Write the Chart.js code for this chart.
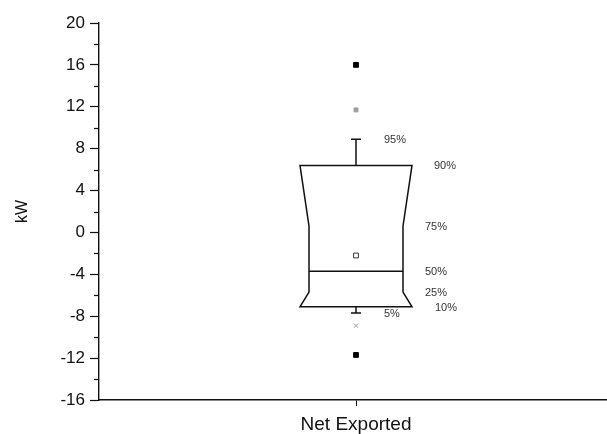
<!DOCTYPE html>
<html>
<head>
<meta charset="utf-8">
<script src="https://cdn.jsdelivr.net/npm/chart.js@4/dist/chart.umd.min.js"></script>
<style>
  html, body { margin: 0; padding: 0; background: #fff; overflow: hidden; width: 607px; height: 434px; }
  #c { display: block; }
</style>
</head>
<body>
<!-- the plot runs off the right edge of the page, so the canvas is a little wider than the window -->
<canvas id="c" width="618" height="434"></canvas>
<script>
// Category and summary statistics (kW)
const categories = ['Net Exported'];
const percentileLabels = ['5%', '10%', '25%', '50%', '75%', '90%', '95%'];
const percentileValues = [-7.7, -7.1, -5.7, -3.7, 0.6, 6.4, 8.9];
const meanValues = [-2.2];
const maxValues = [16.0];
const minValues = [-11.7];
const p99Values = [11.7];
const p1Values = [-8.9];

const FONT = '"Liberation Sans", Arial, sans-serif';

// Draws the percentile box, whiskers and percentile annotations
const boxPlugin = {
  id: 'percentileBox',
  beforeDatasetsDraw(chart) {
    const { ctx } = chart;
    const xs = chart.scales.x, ys = chart.scales.y;
    const pv = {};
    percentileLabels.forEach((l, i) => { pv[l] = percentileValues[i]; });
    const cx = xs.getPixelForValue(0);
    const Y = v => ys.getPixelForValue(v);
    const wide = 56, narrow = 47, cap = 5;

    ctx.save();
    ctx.strokeStyle = '#111';
    ctx.lineWidth = 1.5;
    ctx.lineJoin = 'miter';

    // outline: 90% -> 75% taper, straight to 25%, taper out to 10%
    ctx.beginPath();
    ctx.moveTo(cx - wide, Y(pv['90%']));
    ctx.lineTo(cx + wide, Y(pv['90%']));
    ctx.lineTo(cx + narrow, Y(pv['75%']));
    ctx.lineTo(cx + narrow, Y(pv['25%']));
    ctx.lineTo(cx + wide, Y(pv['10%']));
    ctx.lineTo(cx - wide, Y(pv['10%']));
    ctx.lineTo(cx - narrow, Y(pv['25%']));
    ctx.lineTo(cx - narrow, Y(pv['75%']));
    ctx.closePath();
    ctx.stroke();

    // median
    ctx.beginPath();
    ctx.moveTo(cx - narrow, Y(pv['50%']));
    ctx.lineTo(cx + narrow, Y(pv['50%']));
    ctx.stroke();

    // whiskers
    ctx.beginPath();
    ctx.moveTo(cx, Y(pv['90%']));
    ctx.lineTo(cx, Y(pv['95%']));
    ctx.moveTo(cx - cap, Y(pv['95%']));
    ctx.lineTo(cx + cap, Y(pv['95%']));
    ctx.moveTo(cx, Y(pv['10%']));
    ctx.lineTo(cx, Y(pv['5%']));
    ctx.moveTo(cx - cap, Y(pv['5%']));
    ctx.lineTo(cx + cap, Y(pv['5%']));
    ctx.stroke();

    // percentile annotations
    ctx.fillStyle = '#333';
    ctx.font = '11px ' + FONT;
    ctx.textAlign = 'left';
    ctx.textBaseline = 'middle';
    const offsets = { '95%': 28, '5%': 28, '90%': wide + 22, '10%': wide + 23,
                      '75%': wide + 13, '50%': wide + 13, '25%': wide + 13 };
    percentileLabels.forEach(l => {
      ctx.fillText(l, cx + offsets[l], Y(pv[l]) + 1);
    });

    // minor ticks on the y axis
    ctx.strokeStyle = '#111';
    ctx.lineWidth = 1.2;
    ys.ticks.forEach(t => {
      if (t.value % 4 !== 0) {
        const y = Math.round(Y(t.value)) + 0.5;
        ctx.beginPath();
        ctx.moveTo(ys.right - 5, y);
        ctx.lineTo(ys.right, y);
        ctx.stroke();
      }
    });
    ctx.restore();
  }
};

const pointSet = (data, style, radius, fill, border) => ({
  data, showLine: false, pointStyle: style, pointRadius: radius,
  pointBackgroundColor: fill, pointBorderColor: border, pointBorderWidth: 1
});

new Chart(document.getElementById('c'), {
  type: 'line',
  data: {
    labels: categories,
    datasets: [
      pointSet(maxValues, 'rect', 3.4, '#000', '#000'),
      pointSet(minValues, 'rect', 3.4, '#000', '#000'),
      pointSet(p99Values, 'rect', 2.8, '#a0a0a0', '#a0a0a0'),
      pointSet(p1Values, 'crossRot', 3, '#999', '#999'),
      pointSet(meanValues, 'rect', 3.4, '#fff', '#333')
    ]
  },
  plugins: [boxPlugin],
  options: {
    responsive: false,
    animation: false,
    devicePixelRatio: 1,
    layout: { padding: { top: 23, right: 0, left: 0, bottom: 0 } },
    plugins: { legend: { display: false }, tooltip: { enabled: false } },
    scales: {
      x: {
        type: 'category',
        offset: true,
        afterFit: s => { s.height = 34; },
        grid: { drawOnChartArea: false, tickLength: 6, tickColor: '#111', offset: false },
        border: { color: '#111', width: 1.4 },
        ticks: { color: '#111', font: { family: FONT, size: 19 }, padding: 7 }
      },
      y: {
        min: -16,
        max: 20,
        afterFit: s => { s.width = 99; },
        grid: {
          drawOnChartArea: false,
          tickLength: 9,
          tickWidth: 1.2,
          tickColor: c => (c.tick && c.tick.value % 4 === 0) ? '#111' : 'rgba(0,0,0,0)'
        },
        border: { color: '#111', width: 1.4 },
        ticks: {
          stepSize: 2,
          autoSkip: false,
          color: '#111',
          padding: 5,
          font: { family: FONT, size: 17 },
          callback: v => (v % 4 === 0 ? String(v) : '')
        },
        title: {
          display: true,
          text: 'kW',
          color: '#111',
          font: { family: FONT, size: 16 },
          padding: { top: 13, bottom: 0 }
        }
      }
    }
  }
});
</script>
</body>
</html>
